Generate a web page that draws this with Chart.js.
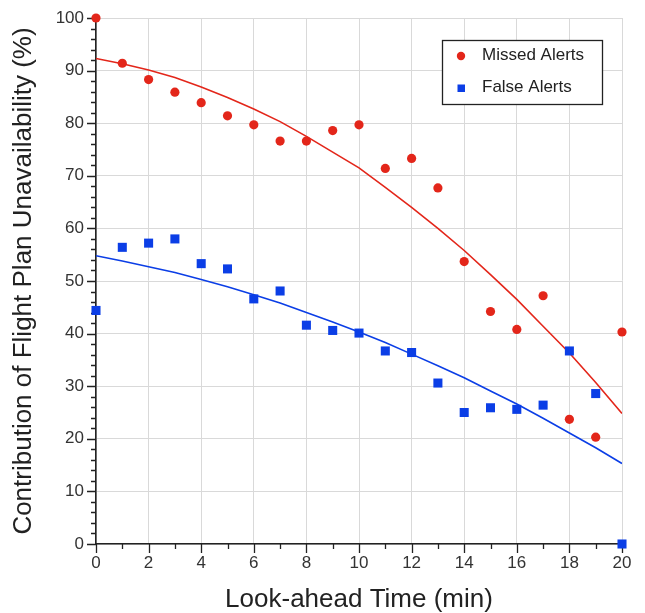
<!DOCTYPE html>
<html>
<head>
<meta charset="utf-8">
<script src="https://cdn.jsdelivr.net/npm/chart.js@4.4.1/dist/chart.umd.min.js"></script>
<style>
  html, body { margin: 0; padding: 0; background: #fff; }
  #wrap { width: 645px; height: 613px; position: relative; }
</style>
</head>
<body>
<div id="wrap"><canvas id="chart"></canvas></div>
<script>
// look-ahead time (min)
const lookAhead = [0, 1, 2, 3, 4, 5, 6, 7, 8, 9, 10, 11, 12, 13, 14, 15, 16, 17, 18, 19, 20];
// measured points (%)
const missedAlerts = [100, 91.4, 88.3, 85.9, 83.9, 81.4, 79.7, 76.6, 76.6, 78.6, 79.7, 71.4, 73.3, 67.7, 53.7, 44.2, 40.8, 47.2, 23.7, 20.3, 40.3];
const falseAlerts = [44.4, 56.4, 57.2, 58.0, 53.3, 52.3, 46.6, 48.1, 41.6, 40.6, 40.1, 36.7, 36.4, 30.6, 25.0, 25.9, 25.6, 26.4, 36.7, 28.6, 0];
// fitted trend lines (%)
const missedFit = [92.3, 91.3, 90.1, 88.7, 86.9, 84.9, 82.7, 80.3, 77.5, 74.5, 71.5, 67.8, 64.0, 60.0, 55.8, 51.2, 46.5, 41.4, 36.3, 30.7, 24.8];
const falseFit = [54.8, 53.8, 52.7, 51.6, 50.3, 48.9, 47.4, 45.8, 44.0, 42.2, 40.3, 38.3, 36.1, 33.9, 31.6, 29.1, 26.6, 23.9, 21.1, 18.3, 15.3];

const RED = '#e3261a';
const BLUE = '#0b3ee6';

const toPts = (vals) => vals.map((v, i) => ({ x: lookAhead[i], y: v }));

// major + minor tick marks on both axes
const tickMarks = {
  id: 'tickMarks',
  beforeDatasetsDraw(chart) {
    const { ctx, chartArea, scales } = chart;
    ctx.save();
    ctx.strokeStyle = '#222';
    ctx.lineWidth = 1.3;
    ctx.beginPath();
    for (let v = 0; v <= 100; v += 2) {
      const y = Math.round(scales.y.getPixelForValue(v)) + 0.5;
      const len = v % 10 === 0 ? 9 : 5;
      ctx.moveTo(chartArea.left - len, y);
      ctx.lineTo(chartArea.left, y);
    }
    for (let v = 0; v <= 20; v++) {
      const x = Math.round(scales.x.getPixelForValue(v)) + 0.5;
      const len = v % 2 === 0 ? 9 : 5;
      ctx.moveTo(x, chartArea.bottom);
      ctx.lineTo(x, chartArea.bottom + len);
    }
    ctx.stroke();
    ctx.restore();
  }
};

// boxed legend in the top-right corner
const boxLegend = {
  id: 'boxLegend',
  afterDatasetsDraw(chart) {
    const { ctx } = chart;
    const bx = 442.5, by = 40.5, bw = 160, bh = 64;
    ctx.save();
    ctx.fillStyle = '#fff';
    ctx.fillRect(bx, by, bw, bh);
    ctx.strokeStyle = '#222';
    ctx.lineWidth = 1.3;
    ctx.strokeRect(bx, by, bw, bh);
    ctx.font = '17px "Liberation Sans", Arial, sans-serif';
    ctx.textBaseline = 'middle';
    const d0 = chart.data.datasets[2], d1 = chart.data.datasets[3];
    ctx.fillStyle = d0.backgroundColor;
    ctx.beginPath();
    ctx.arc(461, 56, 4.2, 0, Math.PI * 2);
    ctx.fill();
    ctx.fillStyle = d1.backgroundColor;
    ctx.fillRect(457.5, 84.5, 7.5, 7.5);
    ctx.fillStyle = '#222';
    ctx.fillText(d0.label, 482, 55);
    ctx.fillText(d1.label, 482, 87);
    ctx.restore();
  }
};

new Chart(document.getElementById('chart'), {
  type: 'scatter',
  data: {
    datasets: [
      { label: 'Missed fit', data: toPts(missedFit), showLine: true, borderColor: RED, borderWidth: 1.6, pointRadius: 0, tension: 0, order: 3 },
      { label: 'False fit', data: toPts(falseFit), showLine: true, borderColor: BLUE, borderWidth: 1.6, pointRadius: 0, tension: 0, order: 4 },
      { label: 'Missed Alerts', data: toPts(missedAlerts), backgroundColor: RED, borderWidth: 0, pointStyle: 'circle', pointRadius: 4.6, clip: false, order: 1 },
      { label: 'False Alerts', data: toPts(falseAlerts), backgroundColor: BLUE, borderWidth: 0, pointStyle: 'rect', pointRadius: 6.4, clip: false, order: 2 }
    ]
  },
  options: {
    responsive: true,
    maintainAspectRatio: false,
    animation: false,
    layout: { padding: { left: 0, right: 23, top: 18, bottom: 0 } },
    plugins: {
      legend: { display: false },
      tooltip: { enabled: false }
    },
    scales: {
      x: {
        type: 'linear',
        min: 0,
        max: 20,
        afterFit: (scale) => { scale.height = 69; scale.paddingLeft = 0; scale.paddingRight = 0; },
        ticks: { stepSize: 2, padding: 9, color: '#333', font: { family: '"Liberation Sans", Arial, sans-serif', size: 17 } },
        grid: { color: '#d9d9d9', lineWidth: 1, drawTicks: false },
        border: { color: '#222', width: 1.6 },
        title: {
          display: true,
          text: 'Look-ahead Time (min)',
          color: '#222',
          padding: { top: 0, bottom: 0 },
          font: { family: '"Liberation Sans", Arial, sans-serif', size: 26, lineHeight: 1.0 }
        }
      },
      y: {
        min: 0,
        max: 100,
        afterFit: (scale) => { scale.width = 96; scale.paddingTop = 0; scale.paddingBottom = 0; },
        ticks: { stepSize: 10, padding: 12, color: '#333', font: { family: '"Liberation Sans", Arial, sans-serif', size: 17 } },
        grid: { color: '#d9d9d9', lineWidth: 1, drawTicks: false },
        border: { color: '#222', width: 1.6 },
        title: {
          display: true,
          text: 'Contribution of Flight Plan Unavailability (%)',
          color: '#222',
          padding: { top: 8, bottom: 0 },
          font: { family: '"Liberation Sans", Arial, sans-serif', size: 26, lineHeight: 1.2 }
        }
      }
    }
  },
  plugins: [tickMarks, boxLegend]
});
</script>
</body>
</html>
